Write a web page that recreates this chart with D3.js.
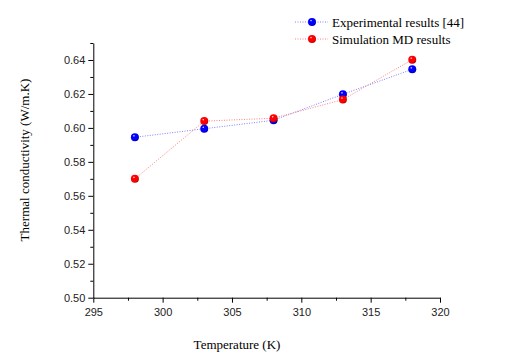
<!DOCTYPE html>
<html><head><meta charset="utf-8">
<script src="https://cdn.jsdelivr.net/npm/d3@7"></script>
<style>body{margin:0;background:#fff} .serif{font-family:"Liberation Serif","Times New Roman",serif;font-size:13px}</style>
</head><body><svg id="c" width="512" height="360"></svg>
<script>
const temperatures = [298, 303, 308, 313, 318];
const experimental = [0.5945, 0.5995, 0.6045, 0.6198, 0.6345];
const simulation = [0.570, 0.604, 0.6057, 0.6167, 0.6402];
const seriesNames = ["Experimental results [44]", "Simulation MD results"];
const xTicks = [295, 300, 305, 310, 315, 320];
const yTicks = [0.50, 0.52, 0.54, 0.56, 0.58, 0.60, 0.62, 0.64];

const svg = d3.select("#c");
const x = d3.scaleLinear().domain([295, 320]).range([93.3, 440]);
const y = d3.scaleLinear().domain([0.50, 0.65]).range([297.7, 43]);

const defs = svg.append("defs");
function grad(id, c, dark) {
  const g = defs.append("radialGradient").attr("id", id).attr("cx", "38%").attr("cy", "32%").attr("r", "68%");
  g.append("stop").attr("offset", "0%").attr("stop-color", "#fff");
  g.append("stop").attr("offset", "22%").attr("stop-color", c);
  g.append("stop").attr("offset", "75%").attr("stop-color", c);
  g.append("stop").attr("offset", "100%").attr("stop-color", dark);
}
grad("gb", "#0000ff", "#0000a0");
grad("gr", "#ff0000", "#b00000");

// axes
const ax = svg.append("g").attr("transform", "translate(0,297.7)");
ax.call(d3.axisBottom(x).tickValues(xTicks).tickSize(5).tickSizeOuter(0).tickFormat(d3.format("d")));
ax.append("g").call(d3.axisBottom(x).tickValues(d3.range(297.5, 320, 5)).tickSize(3).tickFormat(""))
  .select(".domain").remove();
const ay = svg.append("g").attr("transform", "translate(93.3,0)");
ay.call(d3.axisLeft(y).tickValues(yTicks).tickSize(5).tickSizeOuter(0).tickFormat(d3.format(".2f")));
ay.append("g").call(d3.axisLeft(y).tickValues(d3.range(0.51, 0.65, 0.02)).tickSize(3).tickFormat(""))
  .select(".domain").remove();
svg.selectAll(".tick text").attr("font-family", "Liberation Sans, Arial, sans-serif").attr("font-size", 11).attr("fill", "#222");
ax.selectAll(".tick text").attr("dy", "0.9em");
svg.selectAll(".domain, .tick line").attr("stroke", "#000");

// titles
svg.append("text").attr("class", "serif").attr("x", 237).attr("y", 349).attr("text-anchor", "middle")
  .text("Temperature (K)");
svg.append("text").attr("class", "serif").attr("transform", "translate(29,160) rotate(-90)").attr("text-anchor", "middle")
  .text("Thermal conductivity (W/m.K)");

const series = [
  {vals: experimental, line: "#8080ff", fill: "url(#gb)"},
  {vals: simulation, line: "#ff8080", fill: "url(#gr)"}
];
const line = d3.line().x((d, i) => x(temperatures[i])).y(d => y(d));
series.forEach(s => {
  svg.append("path").attr("d", line(s.vals)).attr("fill", "none").attr("stroke", s.line)
    .attr("stroke-width", 1).attr("stroke-dasharray", "1,1.5");
});
series.forEach(s => {
  svg.selectAll(null).data(s.vals).enter().append("circle")
    .attr("cx", (d, i) => x(temperatures[i])).attr("cy", d => y(d)).attr("r", 4).attr("fill", s.fill);
});

// legend
const lg = svg.append("g");
series.forEach((s, i) => {
  const yy = 22 + i * 17;
  lg.append("line").attr("x1", 295).attr("x2", 328).attr("y1", yy).attr("y2", yy)
    .attr("stroke", s.line).attr("stroke-dasharray", "1,1.5");
  lg.append("circle").attr("cx", 312).attr("cy", yy).attr("r", 4).attr("fill", s.fill);
  lg.append("text").attr("class", "serif").attr("x", 332).attr("y", yy + 4.5).text(seriesNames[i]);
});
</script></body></html>
